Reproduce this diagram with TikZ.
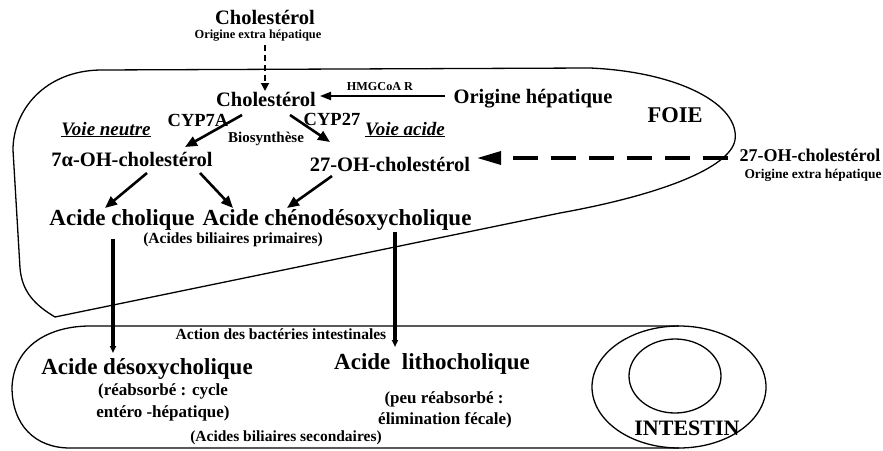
\documentclass[tikz,border=0pt]{standalone}
\usepackage{fontspec}
\setmainfont{Liberation Serif}
\usetikzlibrary{arrows.meta}
\begin{document}
\begin{tikzpicture}[x=1pt,y=-1pt,
  txt/.style={anchor=base,inner sep=0pt,font=\bfseries\fontsize{#1}{#1}\selectfont},
  itx/.style={anchor=base,inner sep=0pt,font=\bfseries\itshape\fontsize{#1}{#1}\selectfont},
  outline/.style={line width=1.3pt},
  arr/.style={line width=2.6pt,-{Triangle[length=12pt,width=10pt]}},
  barr/.style={line width=3.6pt,-{Triangle[length=7pt,width=6pt]}},
  harr/.style={line width=2pt,-{Triangle[length=11pt,width=8pt]}},
  dvarr/.style={line width=1.8pt,dash pattern=on 6pt off 4pt,-{Triangle[length=8pt,width=8pt]}},
  dharr/.style={line width=3.4pt,dash pattern=on 25pt off 13pt,dash phase=25pt,{Triangle[length=24pt,width=13pt]}-}]
\useasboundingbox (0,0) rectangle (883,450);

% liver outline
\draw[outline] (100,70) -- (590,68)
  .. controls (680,72) and (740,105) .. (735,140)
  .. controls (730,168) and (660,195) .. (560,213)
  -- (55,317) .. controls (35,305) and (22,292) .. (20,268)
  -- (13,150) .. controls (13,110) and (45,71) .. (100,70) -- cycle;

% intestine outline and cross-section
\draw[outline] (679,326) -- (90,326) .. controls (50,326) and (14,345) .. (12,387)
  .. controls (12,425) and (35,448) .. (70,448) -- (679,448);
\draw[outline] (679,387) ellipse [x radius=87, y radius=61];
\draw[outline] (675,376) ellipse [x radius=46, y radius=37];

% labels
\node[txt=20.5] (cholext) at (265,24) {Cholestérol};
\node[txt=12.4] (oriext) at (258,38) {Origine extra hépatique};
\node[txt=20.5] (chol) at (266,106) {Cholestérol};
\node[txt=12.2] (hmg) at (380,90) {HMGCoA R};
\node[txt=20.5] (orhep) at (533,103) {Origine hépatique};
\node[txt=22.5] (foie) at (675,122) {FOIE};
\node[txt=18.5] (cyp7) at (198,126) {CYP7A};
\node[txt=18.5] (cyp27) at (332,125) {CYP27};
\node[txt=15] (bio) at (266,142) {Biosynthèse};
\node[itx=19] (vneutre) at (106,135) {\underline{Voie neutre}};
\node[itx=19] (vacide) at (405,135) {\underline{Voie acide}};
\node[txt=20.5] (oh7) at (132,166) {7α-OH-cholestérol};
\node[txt=20.5] (oh27) at (390,171) {27-OH-cholestérol};
\node[txt=18] (oh27ext) at (810,161) {27-OH-cholestérol};
\node[txt=13.4] (oriext2) at (813,178) {Origine extra hépatique};
\node[txt=23] (cholique) at (122,225) {Acide cholique};
\node[txt=23] (cheno) at (337,225) {Acide chénodésoxycholique};
\node[txt=15.5] (prim) at (233,243) {(Acides biliaires primaires)};
\node[txt=15.5] (bact) at (281,339) {Action des bactéries intestinales};
\node[txt=23] (desoxy) at (147,374) {Acide désoxycholique};
\node[txt=23] (litho) at (432,369) {Acide \ lithocholique};
\node[txt=17] (reab1) at (163,395) {(réabsorbé : cycle};
\node[txt=17] (reab2) at (163,417) {entéro -hépatique)};
\node[txt=17] (peu1) at (444,403) {(peu réabsorbé :};
\node[txt=17] (peu2) at (445,424) {élimination fécale)};
\node[txt=15.5] (sec) at (286,441) {(Acides biliaires secondaires)};
\node[txt=22] (intestin) at (687,435) {INTESTIN};

% connectors
\draw[dvarr] ([shift={(7,7)}]oriext.base) -- ([shift={(-1,-15)}]chol.base);
\draw[harr] ([shift={(-88,-7)}]orhep.base) -- ([shift={(54,-10)}]chol.base);
\draw[arr] ([shift={(-24,9)}]chol.base) -- ([shift={(53,-19)}]oh7.base);
\draw[arr] ([shift={(24,9)}]chol.base) -- ([shift={(-60,-29)}]oh27.base);
\draw[dharr] ([shift={(87,-13)}]oh27.base) -- ([shift={(-74,-3)}]oh27ext.base);
\draw[arr] ([shift={(15,7)}]oh7.base) -- ([shift={(-17,-17)}]cholique.base);
\draw[arr] ([shift={(68,7)}]oh7.base) -- ([shift={(-104,-17)}]cheno.base);
\draw[arr] ([shift={(-58,5)}]oh27.base) -- ([shift={(-50,-17)}]cheno.base);
\draw[barr] ([shift={(-9,14)}]cholique.base) -- ([shift={(-34,-21)}]desoxy.base);
\draw[barr] ([shift={(58,7)}]cheno.base) -- ([shift={(-37,-22)}]litho.base);
\end{tikzpicture}
\end{document}
